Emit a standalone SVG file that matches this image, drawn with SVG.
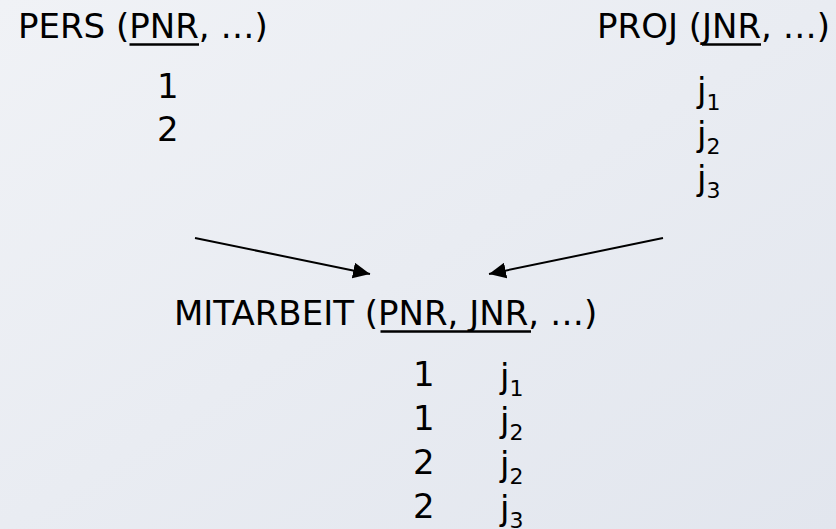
<svg xmlns="http://www.w3.org/2000/svg" width="836" height="529" viewBox="0 0 836 529">
<defs>
<linearGradient id="bg" x1="0" y1="0" x2="1" y2="1">
<stop offset="0" stop-color="#f0f2f6"/>
<stop offset="1" stop-color="#e2e6ee"/>
</linearGradient>
<marker id="arr" markerUnits="userSpaceOnUse" markerWidth="18" markerHeight="16" refX="17" refY="8" orient="auto">
<path d="M0,0 L17,8 L0,16 z" fill="#000"/>
</marker>
</defs>
<style>
text{font-family:"DejaVu Sans","Liberation Sans",sans-serif;font-size:34px;fill:#000}
.sub{font-size:22px}
.ul{stroke:#000;stroke-width:2.5}
.conn line{stroke:#000;stroke-width:2}
</style>
<rect width="836" height="529" fill="url(#bg)"/>
<g id="pers">
<text x="18" y="38">PERS (PNR, …)</text>
<line class="ul" x1="129.5" y1="44.5" x2="199" y2="44.5"/>
<text x="157" y="98">1</text>
<text x="157" y="141">2</text>
</g>
<g id="proj">
<text x="597" y="38">PROJ (JNR, …)</text>
<line class="ul" x1="702" y1="44.5" x2="761" y2="44.5"/>
<text x="697" y="102">j<tspan class="sub" dy="8">1</tspan></text>
<text x="697" y="146">j<tspan class="sub" dy="8">2</tspan></text>
<text x="697" y="190">j<tspan class="sub" dy="8">3</tspan></text>
</g>
<g id="mitarbeit">
<text x="174" y="325">MITARBEIT (PNR, JNR, …)</text>
<line class="ul" x1="380.5" y1="331.5" x2="531" y2="331.5"/>
<text x="413" y="386">1</text>
<text x="413" y="430">1</text>
<text x="413" y="474">2</text>
<text x="413" y="518">2</text>
<text x="500" y="388">j<tspan class="sub" dy="8">1</tspan></text>
<text x="500" y="432">j<tspan class="sub" dy="8">2</tspan></text>
<text x="500" y="476">j<tspan class="sub" dy="8">2</tspan></text>
<text x="500" y="520">j<tspan class="sub" dy="8">3</tspan></text>
</g>
<g id="connectors" class="conn">
<line x1="195" y1="238" x2="370" y2="274" marker-end="url(#arr)"/>
<line x1="663" y1="238" x2="489" y2="274" marker-end="url(#arr)"/>
</g>
</svg>
